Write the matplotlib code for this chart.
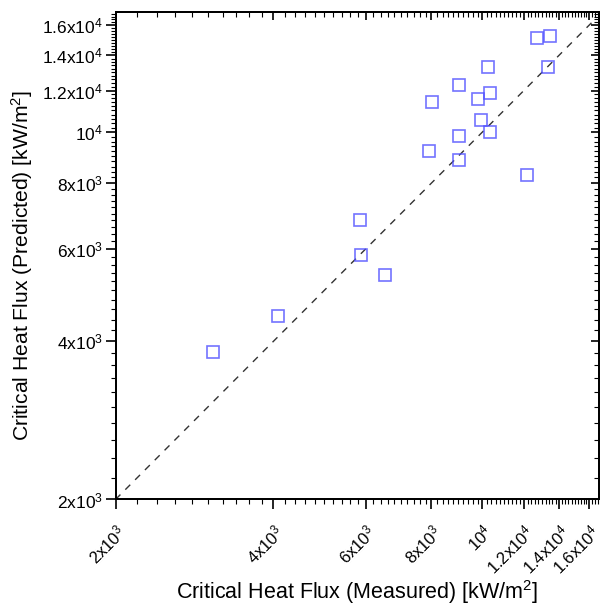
import matplotlib
matplotlib.use('Agg')
import matplotlib.pyplot as plt
from matplotlib.ticker import FixedLocator, MultipleLocator, NullFormatter

plt.rcParams['font.family'] = ['Liberation Sans', 'DejaVu Sans']
plt.rcParams['mathtext.fontset'] = 'custom'
plt.rcParams['mathtext.rm'] = 'Liberation Sans'
plt.rcParams['mathtext.it'] = 'Liberation Sans'
plt.rcParams['mathtext.default'] = 'regular'

# measured vs predicted critical heat flux [kW/m2]
measured = [12716, 13446, 10278, 13370, 9012, 8016, 9836, 10337, 9950, 9012,
            10324, 7900, 9036, 12175, 5852, 5870, 6524, 3062, 4084]
predicted = [15137, 15270, 13311, 13311, 12282, 11433, 11570, 11878, 10532, 9849,
             10024, 9222, 8864, 8290, 6792, 5844, 5337, 3815, 4467]

tick_values = [2000, 4000, 6000, 8000, 10000, 12000, 14000, 16000]
tick_labels = ['2x10$^3$', '4x10$^3$', '6x10$^3$', '8x10$^3$', '10$^4$',
               '1.2x10$^4$', '1.4x10$^4$', '1.6x10$^4$']
diag = [2000, 16300]
xlim = (2000, 16700)
ylim = (2000, 16900)

fig = plt.figure(figsize=(6.0, 6.08), dpi=100)
ax = fig.add_axes([0.1925, 0.1785, 0.806, 0.801])

ax.plot(diag, diag, color='#333333', linestyle=(0, (5, 5)), linewidth=1.0)
ax.plot(measured, predicted, linestyle='none', marker='s', markersize=8.5,
        markerfacecolor='none', markeredgecolor='#5050ff', markeredgewidth=1.2,
        alpha=0.8)

ax.set_xscale('log')
ax.set_yscale('log')
ax.set_xlim(*xlim)
ax.set_ylim(*ylim)

for axis in (ax.xaxis, ax.yaxis):
    axis.set_major_locator(FixedLocator(tick_values))
    axis.set_minor_locator(MultipleLocator(200))
    axis.set_minor_formatter(NullFormatter())
ax.set_xticklabels(tick_labels, rotation=45, ha='right', va='top',
                   rotation_mode='anchor')
ax.set_yticklabels(tick_labels)
ax.tick_params(which='major', direction='out', length=7, width=1.2,
               labelsize=12.5, pad=2)
ax.tick_params(which='minor', direction='out', length=3.5, width=0.8)
ax.tick_params(axis='x', which='major', pad=9, labelsize=12)

# inward ticks on top and right
top = ax.twiny()
right = ax.twinx()
top.set_xscale('log')
top.set_xlim(*xlim)
right.set_yscale('log')
right.set_ylim(*ylim)
top.xaxis.set_major_locator(FixedLocator(tick_values))
top.xaxis.set_minor_locator(MultipleLocator(200))
right.yaxis.set_major_locator(FixedLocator(tick_values))
right.yaxis.set_minor_locator(MultipleLocator(200))
for a in (top, right):
    a.tick_params(which='both', labelleft=False, labelright=False,
                  labeltop=False, labelbottom=False)
    a.tick_params(which='major', direction='in', length=6, width=1.2)
    a.tick_params(which='minor', direction='in', length=3.5, width=0.8)
top.tick_params(axis='y', which='both', left=False, right=False,
                labelleft=False, labelright=False)
right.tick_params(axis='x', which='both', top=False, bottom=False,
                  labeltop=False, labelbottom=False)

for a in (ax, top, right):
    for s in a.spines.values():
        s.set_linewidth(1.2)

ax.set_xlabel('Critical Heat Flux (Measured) [kW/m$^2$]', fontsize=15.5, labelpad=1)
ax.set_ylabel('Critical Heat Flux (Predicted) [kW/m$^2$]', fontsize=15.2)
ax.yaxis.set_label_coords(-0.166, 0.48)

fig.savefig('out.png', dpi=100)
